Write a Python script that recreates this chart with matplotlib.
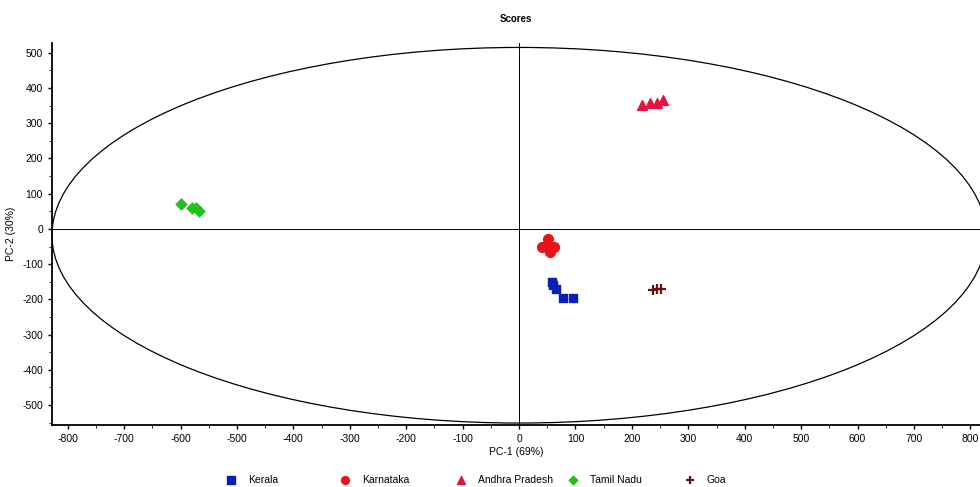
import matplotlib
matplotlib.use('Agg')
import matplotlib.pyplot as plt
from matplotlib.patches import Ellipse
from matplotlib.ticker import MultipleLocator

plt.rcParams['font.family'] = ['Liberation Sans', 'DejaVu Sans']
plt.rcParams['axes.unicode_minus'] = False

# scores
kerala_x = [58, 60, 65, 78, 95]
kerala_y = [-150, -160, -172, -195, -197]
karnataka_x = [40, 52, 62, 55, 50]
karnataka_y = [-52, -30, -50, -66, -48]
andhra_x = [218, 232, 245, 255]
andhra_y = [352, 358, 358, 365]
tamil_x = [-600, -580, -572, -568]
tamil_y = [70, 60, 58, 50]
goa_x = [238, 245, 252]
goa_y = [-173, -172, -170]

fig = plt.figure(figsize=(9.8, 4.87), dpi=100)
ax = fig.add_axes([0.053, 0.127, 0.947, 0.785])

ax.add_patch(Ellipse((0, -18), 2 * 828, 2 * 533, fill=False, edgecolor='black', lw=0.9))
ax.axhline(0, color='black', lw=0.7)
ax.axvline(0, color='black', lw=0.7)

handles = [
    ax.scatter(kerala_x, kerala_y, marker='s', s=40, color='#0a1fb5', label='Kerala', zorder=3),
    ax.scatter(karnataka_x, karnataka_y, marker='o', s=50, color='#e8141a', label='Karnataka', zorder=3),
    ax.scatter(andhra_x, andhra_y, marker='^', s=50, color='#e4133f', label='Andhra Pradesh', zorder=3),
    ax.scatter(tamil_x, tamil_y, marker='D', s=30, color='#22c11e', label='Tamil Nadu', zorder=3),
    ax.scatter(goa_x, goa_y, marker='+', s=45, linewidths=1.6, color='#6e0f0f', label='Goa', zorder=3),
]

ax.set_xlim(-828, 817)
ax.set_ylim(-557, 528)
ax.xaxis.set_major_locator(MultipleLocator(100))
ax.xaxis.set_minor_locator(MultipleLocator(50))
ax.yaxis.set_major_locator(MultipleLocator(100))
ax.yaxis.set_minor_locator(MultipleLocator(50))
ax.tick_params(labelsize=7.5, length=3, width=1)
ax.tick_params(which='minor', length=2)
for s in ['top', 'right']:
    ax.spines[s].set_visible(False)
for s in ['left', 'bottom']:
    ax.spines[s].set_linewidth(1.3)

ax.set_title('Scores', fontsize=7, fontweight='bold', pad=15)
ax.set_xlabel('PC-1 (69%)', fontsize=7.5, labelpad=2)
ax.set_ylabel('PC-2 (30%)', fontsize=7.5, labelpad=4)

# legend entries sit at fixed spacing along the bottom
legend_x = [225, 339, 455, 567, 684]
for h, lx in zip(handles, legend_x):
    leg = fig.legend([h], [h.get_label()], loc='center left', bbox_to_anchor=(lx / 980, 0.015),
                     frameon=False, fontsize=7.5, handletextpad=1.0, markerscale=0.8,
                     borderpad=0, borderaxespad=0, handlelength=1.2)

fig.savefig('out.png', dpi=100)
